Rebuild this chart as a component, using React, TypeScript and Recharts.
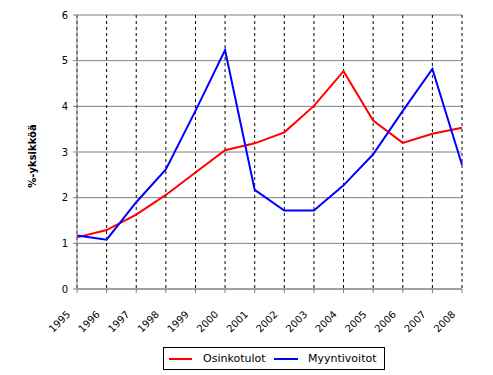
import { LineChart, Line, XAxis, YAxis, CartesianGrid } from 'recharts';

const years = ['1995', '1996', '1997', '1998', '1999', '2000', '2001', '2002', '2003', '2004', '2005', '2006', '2007', '2008'];
const osinkotulot = [1.13, 1.29, 1.63, 2.06, 2.55, 3.04, 3.19, 3.43, 4.01, 4.77, 3.69, 3.2, 3.4, 3.53];
const myyntivoitot = [1.17, 1.08, 1.9, 2.62, 3.9, 5.23, 2.17, 1.72, 1.72, 2.27, 2.95, 3.9, 4.82, 2.72];
const yTicks = [0, 1, 2, 3, 4, 5, 6];

const FONT = '"DejaVu Sans", Verdana, sans-serif';
const RED = '#ff0000';
const BLUE = '#0000ff';

const chartData = years.map((year, i) => ({
  year,
  Osinkotulot: osinkotulot[i],
  Myyntivoitot: myyntivoitot[i],
}));

function YearTick({ x, y, payload }: any) {
  const tx = x - 6;
  const ty = y + 20;
  return (
    <text
      x={tx}
      y={ty}
      transform={`rotate(-45 ${tx} ${ty})`}
      textAnchor="end"
      fontSize={10}
      fontFamily={FONT}
      fill="#000"
    >
      {payload.value}
    </text>
  );
}

export default function App() {
  return (
    <div style={{ position: 'absolute', left: 0, top: 0, width: 493, height: 375, background: '#fff' }}>
      <LineChart
        width={493}
        height={375}
        data={chartData}
        margin={{ top: 15, right: 31, left: 0, bottom: 0 }}
      >
        <CartesianGrid vertical={false} stroke="#808080" />
        <CartesianGrid horizontal={false} stroke="#000" strokeDasharray="3 3" />
        <XAxis
          dataKey="year"
          interval={0}
          height={86}
          stroke="#808080"
          tickSize={4}
          tickMargin={2}
          tick={<YearTick />}
        />
        <YAxis
          domain={[0, 6]}
          ticks={yTicks}
          width={77}
          stroke="#808080"
          tickSize={4}
          tickMargin={5}
          tick={{ fill: '#000', fontSize: 10, fontFamily: FONT }}
          label={({ viewBox }: any) => {
            const cx = 32;
            const cy = viewBox ? viewBox.y + viewBox.height / 2 + 4 : 156;
            return (
              <text
                x={cx}
                y={cy}
                transform={`rotate(-90 ${cx} ${cy})`}
                textAnchor="middle"
                dominantBaseline="central"
                fontSize={10}
                fontWeight="bold"
                fontFamily={FONT}
                fill="#000"
              >
                %-yksikköä
              </text>
            );
          }}
        />
        <Line
          type="linear"
          dataKey="Osinkotulot"
          stroke={RED}
          strokeWidth={2}
          dot={false}
          isAnimationActive={false}
        />
        <Line
          type="linear"
          dataKey="Myyntivoitot"
          stroke={BLUE}
          strokeWidth={2}
          dot={false}
          isAnimationActive={false}
        />
      </LineChart>
      <div
        style={{
          position: 'absolute',
          left: 163,
          top: 347,
          width: 222,
          height: 23,
          border: '1px solid #000',
          boxSizing: 'border-box',
          fontFamily: FONT,
          fontSize: 11,
        }}
      >
        <div style={{ position: 'absolute', left: 5, top: 10, width: 23, height: 2, background: RED }} />
        <div style={{ position: 'absolute', left: 39, top: 4, lineHeight: '13px' }}>Osinkotulot</div>
        <div style={{ position: 'absolute', left: 110, top: 10, width: 24, height: 2, background: BLUE }} />
        <div style={{ position: 'absolute', left: 144, top: 4, lineHeight: '13px' }}>Myyntivoitot</div>
      </div>
    </div>
  );
}
